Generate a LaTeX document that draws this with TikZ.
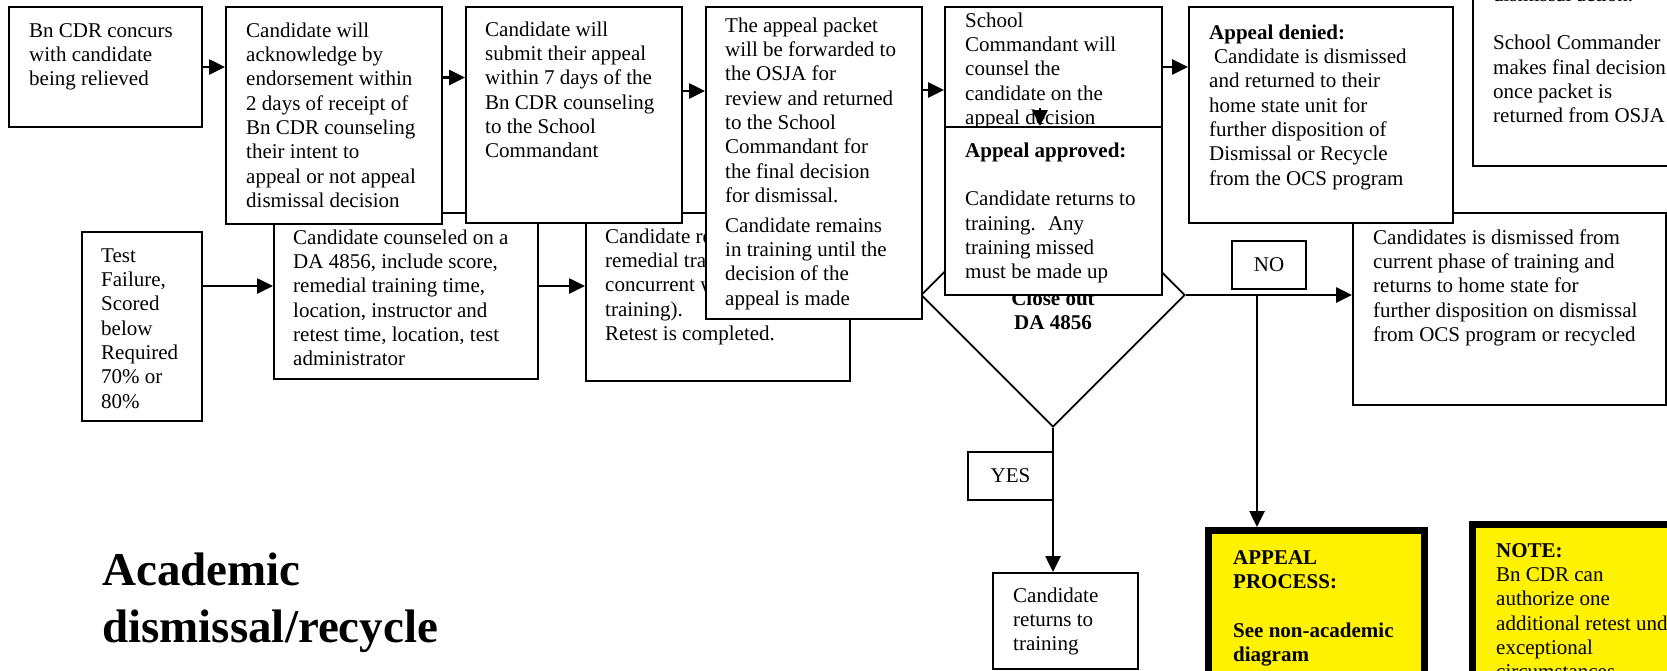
\documentclass[tikz,border=0pt]{standalone}
\usepackage{fontspec}
\setmainfont{Liberation Serif}
\usetikzlibrary{shapes.geometric,arrows.meta}
\tikzset{
 bx/.style={draw, line width=2pt, fill=white, inner sep=0pt, anchor=north west},
 txt/.style={anchor=north west, inner sep=0pt, align=left, font=\fontsize{21}{24.3}\selectfont},
 arr/.style={line width=2.6pt, -{Triangle[length=16pt,width=15pt]}},
 hl/.style={draw, line width=7pt, fill=yellow, inner sep=0pt, anchor=north west},
}
\begin{document}
\begin{tikzpicture}[x=1pt,y=-1pt]
\useasboundingbox (0,0) rectangle (1667,670);
\clip (0,0) rectangle (1667,670);
\fill[white] (0,0) rectangle (1667,670);
% lower row
\node[bx, minimum width=120pt, minimum height=189pt] (test) at (81,231) {};
\node[txt] (ttest) at (101,245) {\strut Test\\Failure,\\Scored\\below\\Required\\70\% or\\80\%};
\node[bx, minimum width=264pt, minimum height=166pt] (couns) at (273,212) {};
\node[txt] (tcouns) at (293,227) {\strut Candidate counseled on a\\DA 4856, include score,\\remedial training time,\\location, instructor and\\retest time, location, test\\administrator};
\node[bx, minimum width=264pt, minimum height=168pt] (remed) at (585,212) {};
\node[txt] (tremed) at (605,226) {\strut Candidate receives\\remedial training (not\\concurrent with\\training).\\Retest is completed.};
% decision
\node[diamond, draw, line width=1.8pt, fill=white, minimum width=264pt, minimum height=264pt, aspect=1, inner sep=0pt] (dia) at (1053,295) {};
\node[txt, anchor=north, align=center, font=\fontsize{21}{24.3}\selectfont\bfseries] (tdia) at (1053,288) {\strut Close out\\DA 4856};
% top row
\node[bx, minimum width=193pt, minimum height=120pt] (b1) at (8,6) {};
\node[txt] (t1) at (29,20) {\strut Bn CDR concurs\\with candidate\\being relieved};
\node[bx, minimum width=216pt, minimum height=217pt] (b2) at (225,6) {};
\node[txt] (t2) at (246,20) {\strut Candidate will\\acknowledge by\\endorsement within\\2 days of receipt of\\Bn CDR counseling\\their intent to\\appeal or not appeal\\dismissal decision};
\node[bx, minimum width=216pt, minimum height=216pt] (b3) at (465,6) {};
\node[txt] (t3) at (485,19) {\strut Candidate will\\submit their appeal\\within 7 days of the\\Bn CDR counseling\\to the School\\Commandant};
\node[bx, minimum width=216pt, minimum height=312pt] (b4) at (705,6) {};
\node[txt] (t4) at (725,15) {\strut The appeal packet\\will be forwarded to\\the OSJA for\\review and returned\\to the School\\Commandant for\\the final decision\\for dismissal.\\[5.5pt]Candidate remains\\in training until the\\decision of the\\appeal is made};
\node[bx, minimum width=217pt, minimum height=120pt] (b5) at (944,6) {};
\node[txt] (t5) at (965,10) {\strut School\\Commandant will\\counsel the\\candidate on the\\appeal decision};
\node[bx, minimum width=217pt, minimum height=168pt] (b6) at (944,126) {};
\node[txt] (t6) at (965,140) {\strut\textbf{Appeal approved:}\\[24.3pt]Candidate returns to\\training.~ Any\\training missed\\must be made up};
\coordinate (a5) at (1040,108);
\draw[arr] (a5) -- (a5 |- b6.north);
\node[bx, minimum width=313pt, minimum height=192pt] (b9) at (1352,212) {};
\node[txt] (t9) at (1373,227) {\strut Candidates is dismissed from\\current phase of training and\\returns to home state for\\further disposition on dismissal\\from OCS program or recycled};
\node[bx, minimum width=264pt, minimum height=216pt] (b7) at (1188,6) {};
\node[txt] (t7) at (1209,22) {\strut\textbf{Appeal denied:}\\\hspace{5pt}Candidate is dismissed\\and returned to their\\home state unit for\\further disposition of\\Dismissal or Recycle\\from the OCS program};
\node[bx, minimum width=250pt, minimum height=185pt] (b8) at (1472,-20) {};
\node[txt] (t8) at (1493,-16) {\strut dismissal action.\\[24.3pt]School Commander\\makes final decision\\once packet is\\returned from OSJA};
% labels
\node[bx, anchor=center, minimum width=74pt, minimum height=48pt, font=\fontsize{21}{24.3}\selectfont] (no) at (1269,265) {NO};
\node[bx, anchor=center, minimum width=85pt, minimum height=48pt, font=\fontsize{21}{24.3}\selectfont] (yes) at (1010.5,476) {YES};
\node[bx, minimum width=145pt, minimum height=96pt] (ret) at (992,572) {};
\node[txt] (tret) at (1013,585) {\strut Candidate\\returns to\\training};
% yellow boxes
\node[hl, minimum width=216pt, minimum height=200pt] (appeal) at (1205,527) {};
\node[txt, font=\fontsize{21}{24.3}\selectfont\bfseries] (tappeal) at (1233,547) {\strut APPEAL\\PROCESS:\\[24.3pt]See non-academic\\diagram};
\node[hl, minimum width=250pt, minimum height=200pt] (note) at (1469,521) {};
\node[txt] (tnote) at (1496,540) {\strut\textbf{NOTE:}\\Bn CDR can\\authorize one\\additional retest under\\exceptional\\circumstances};
% title
\node[anchor=north west, inner sep=0pt, align=left, font=\fontsize{47}{57}\selectfont\bfseries] (title) at (102,545) {\strut Academic\\dismissal/recycle};
% connectors
\draw[arr] (b1.east) -- (b1.east -| b2.west);
\draw[arr] ([yshift=38pt]b2.east) -- ([yshift=38pt]b2.east -| b3.west);
\draw[arr] ([yshift=24pt]b3.east) -- ([yshift=24pt]b3.east -| b4.west);
\draw[arr] ([yshift=73pt]b4.east) -- ([yshift=73pt]b4.east -| b5.west);
\draw[arr] (b5.east) -- (b5.east -| b7.west);
\draw[arr] ([yshift=40.5pt]test.east) -- ([yshift=40.5pt]test.east -| couns.west);
\draw[arr] ([yshift=10pt]couns.east) -- ([yshift=10pt]couns.east -| remed.west);
\coordinate (jn) at (1257,0);
\draw[arr] (dia.east) -- (dia.east -| b9.west);
\draw[arr] (dia.east -| jn) -- (jn |- appeal.north);
\draw[arr] (dia.south) -- (dia.south |- ret.north);
\end{tikzpicture}
\end{document}
